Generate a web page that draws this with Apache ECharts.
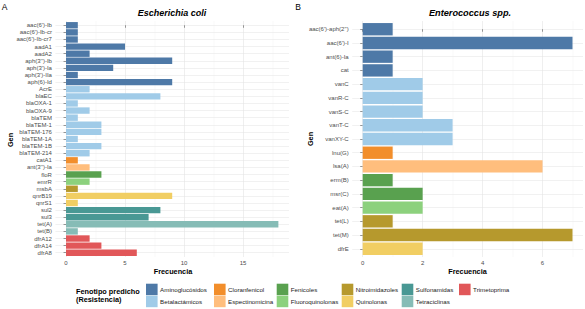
<!DOCTYPE html>
<html><head><meta charset="utf-8">
<script src="https://cdn.jsdelivr.net/npm/echarts@6/dist/echarts.min.js"></script>
<style>html,body{margin:0;padding:0;background:#fff}#c{width:585px;height:309px}</style>
</head><body><div id="c"></div>
<script>
// ---- data ----
const groupNames = ['Aminoglucósidos','Betalactámicos','Cloranfenicol','Espectinomicina','Fenicoles','Fluoroquinolonas','Nitroimidazoles','Quinolonas','Sulfonamidas','Tetraciclinas','Trimetoprima'];
const groupColors = ['#4E79A7','#A0CBE8','#F28E2B','#FFBE7D','#59A14F','#8CD17D','#B6992D','#F1CE63','#499894','#86BCB6','#E15759'];

const genesA = ["aac(6')-Ib","aac(6')-Ib-cr","aac(6')-Ib-cr7","aadA1","aadA2","aph(3'')-Ib","aph(3')-Ia","aph(3')-IIa","aph(6)-Id","AcrE","blaEC","blaOXA-1","blaOXA-9","blaTEM","blaTEM-1","blaTEM-176","blaTEM-1A","blaTEM-1B","blaTEM-214","catA1","ant(3'')-Ia","floR","emrR","msbA","qnrB19","qnrS1","sul2","sul3","tet(A)","tet(B)","dfrA12","dfrA14","dfrA8"];
const valuesA = [1,1,1,5,2,9,4,1,9,2,8,1,2,1,3,3,1,3,2,1,2,3,2,1,9,1,8,7,18,1,2,3,6];
const groupA = ['Aminoglucósidos','Aminoglucósidos','Aminoglucósidos','Aminoglucósidos','Aminoglucósidos','Aminoglucósidos','Aminoglucósidos','Aminoglucósidos','Aminoglucósidos',
  'Betalactámicos','Betalactámicos','Betalactámicos','Betalactámicos','Betalactámicos','Betalactámicos','Betalactámicos','Betalactámicos','Betalactámicos','Betalactámicos',
  'Cloranfenicol','Espectinomicina','Fenicoles','Fluoroquinolonas','Nitroimidazoles','Quinolonas','Quinolonas','Sulfonamidas','Sulfonamidas','Tetraciclinas','Tetraciclinas',
  'Trimetoprima','Trimetoprima','Trimetoprima'];

const genesB = ["aac(6')-aph(2'')","aac(6')-I","ant(6)-Ia","cat","vanC","vanR-C","vanS-C","vanT-C","vanXY-C","lnu(G)","lsa(A)","erm(B)","msr(C)","eat(A)","tet(L)","tet(M)","dfrE"];
const valuesB = [1,7,1,1,2,2,2,3,3,1,6,1,2,2,1,7,2];
const groupB = ['Aminoglucósidos','Aminoglucósidos','Aminoglucósidos','Aminoglucósidos',
  'Betalactámicos','Betalactámicos','Betalactámicos','Betalactámicos','Betalactámicos',
  'Cloranfenicol','Espectinomicina','Fenicoles','Fenicoles','Fluoroquinolonas','Nitroimidazoles','Nitroimidazoles','Quinolonas'];

const ticksA = [0,5,10,15];
const minorTicksA = [2.5,7.5,12.5,17.5];
const ticksB = [0,2,4,6];
const minorTicksB = [1,3,5,7];

// ---- layout ----
const FONT = 'Liberation Sans, Arial, sans-serif';
const panelTop = 21, panelH = 236;
const panels = [
  {left: 55.4, width: 233.6, genes: genesA, values: valuesA, groups: groupA, ticks: ticksA, minor: minorTicksA},
  {left: 352.2, width: 230.8, genes: genesB, values: valuesB, groups: groupB, ticks: ticksB, minor: minorTicksB}
];

const grid = [], xAxis = [], yAxis = [], series = [];
panels.forEach((p, pi) => {
  const n = p.genes.length;
  const maxV = Math.max(...p.values);
  const xmin = -0.05 * maxV, xmax = maxV * 1.05;
  const band = panelH / (n - 1 + 1.2);
  const gBg = grid.length;
  grid.push({left: p.left, top: panelTop, width: p.width, height: panelH});
  const gBar = grid.length;
  grid.push({left: p.left, top: panelTop + 0.1 * band, width: p.width, height: n * band});
  const xMajor = xAxis.length;
  xAxis.push({type: 'value', gridIndex: gBg, min: xmin, max: xmax,
    axisLine: {show: false},
    axisTick: {show: true, customValues: p.ticks, length: 2.5, lineStyle: {color: '#555', width: 0.6}},
    axisLabel: {customValues: p.ticks, margin: 2.5, fontSize: 6, color: '#4d4d4d', fontFamily: FONT},
    splitLine: {show: true, lineStyle: {color: '#e4e4e4', width: 0.6}}});
  xAxis.push({type: 'value', gridIndex: gBg, min: xmin, max: xmax,
    axisLine: {show: false},
    axisTick: {show: false, customValues: p.minor},
    axisLabel: {show: false},
    splitLine: {show: true, lineStyle: {color: '#f0f0f0', width: 0.4}}});
  const xBar = xAxis.length;
  xAxis.push({type: 'value', gridIndex: gBar, min: xmin, max: xmax, show: false, splitLine: {show: false}});
  const idx = p.genes.map((g, i) => i);
  yAxis.push({type: 'value', gridIndex: gBg, inverse: true, min: -0.6, max: n - 1 + 0.6,
    axisLine: {show: false},
    axisTick: {show: true, customValues: idx, length: 2.5, lineStyle: {color: '#555', width: 0.6}},
    axisLabel: {customValues: idx, margin: 3.5, fontSize: 6, color: '#4d4d4d', fontFamily: FONT,
      formatter: v => p.genes[Math.round(v)]},
    splitLine: {show: true, lineStyle: {color: '#e8e8e8', width: 0.6}}});
  const yBar = yAxis.length;
  yAxis.push({type: 'category', gridIndex: gBar, data: p.genes, inverse: true, show: false});
  groupNames.forEach((gname, gi) => {
    if (!p.groups.includes(gname)) return;
    series.push({
      type: 'bar', name: gname, xAxisIndex: xBar, yAxisIndex: yBar, stack: 'p' + pi,
      barCategoryGap: '10%', itemStyle: {color: groupColors[gi]},
      data: p.values.map((v, i) => p.groups[i] === gname ? v : '-'),
      animation: false
    });
  });
});

const legendCols = [[0,1],[2,3],[4,5],[6,7],[8,9],[10]];
const legendLefts = [146, 214, 276.7, 341.7, 401.7, 459];
const legend = legendCols.map((col, ci) => ({
  orient: 'vertical', left: legendLefts[ci], top: 283.7, padding: 0,
  itemWidth: 11.6, itemHeight: 11.5, itemGap: 0.5, icon: 'rect', selectedMode: false,
  itemStyle: {borderWidth: 0},
  textStyle: {fontSize: 6.2, color: '#1a1a1a', fontFamily: FONT, padding: [0, 0, 0, -2.5]},
  data: col.map(i => groupNames[i])
}));

const txt = (text, x, y, font, opts) => Object.assign({type: 'text', x: x, y: y, silent: true,
  style: Object.assign({text: text, font: font, fill: '#000', textAlign: 'center', textVerticalAlign: 'middle'}, opts || {})});
const graphic = [
  txt('A', 4.7, 6.5, '8.5px ' + FONT),
  txt('B', 298, 6.5, '8.5px ' + FONT),
  txt('Escherichia coli', 172, 12.7, 'italic bold 9px ' + FONT),
  txt('Enterococcus spp.', 470, 12.7, 'italic bold 9.2px ' + FONT),
  txt('Frecuencia', 173, 271.7, 'bold 7.3px ' + FONT),
  txt('Frecuencia', 467.5, 271.7, 'bold 7.3px ' + FONT),
  Object.assign(txt('Gen', 10.5, 140, 'bold 7.3px ' + FONT), {rotation: Math.PI / 2}),
  Object.assign(txt('Gen', 310, 139, 'bold 7.3px ' + FONT), {rotation: Math.PI / 2}),
  txt('Fenotipo predicho', 76, 291.3, 'bold 7.3px ' + FONT, {textAlign: 'left'}),
  txt('(Resistencia)', 76, 299.7, 'bold 7.3px ' + FONT, {textAlign: 'left'})
];

const chart = echarts.init(document.getElementById('c'), null, {renderer: 'svg'});
chart.setOption({animation: false, backgroundColor: '#fff', grid, xAxis, yAxis, series, legend, graphic});
</script></body></html>
